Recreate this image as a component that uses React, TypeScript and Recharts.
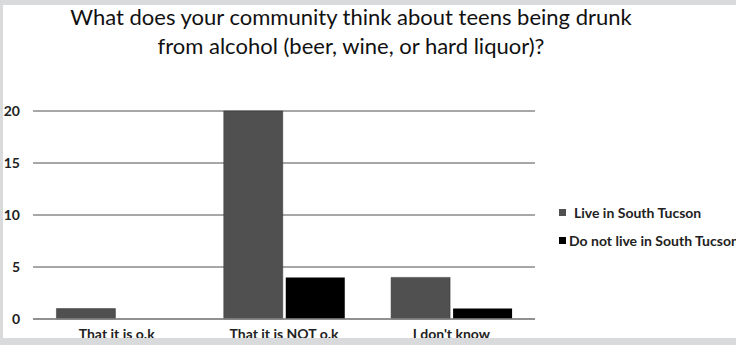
import React from "react";
import { BarChart, Bar, XAxis, YAxis, CartesianGrid } from "recharts";

const categories = ["That it is o.k", "That it is NOT o.k", "I don't know"];
const liveIn = [1, 20, 4];
const notLiveIn = [0, 4, 1];
const yTicks = [0, 5, 10, 15, 20];

const seriesNames = ["Live in South Tucson", "Do not live in South Tucson"];
const seriesColors = ["#505050", "#000000"];

const data = categories.map((c, i) => ({
  name: c,
  live: liveIn[i],
  notLive: notLiveIn[i],
}));

const font = "Lato, 'Open Sans', sans-serif";

function LegendBox() {
  return (
    <div style={{ fontFamily: font, fontSize: 14, fontWeight: 700, color: "#222" }}>
      {seriesNames.map((n, i) => (
        <div key={n} style={{ display: "flex", alignItems: "center", height: 28, whiteSpace: "nowrap" }}>
          <span
            style={{
              display: "inline-block",
              width: 7,
              height: 7,
              background: seriesColors[i],
              marginRight: i === 0 ? 8 : 3,
            }}
          />
          {n}
        </div>
      ))}
    </div>
  );
}

export default function App() {
  return (
    <div
      style={{
        position: "fixed",
        left: 0,
        top: 0,
        width: 736,
        height: 345,
        background: "#d9dadb",
        overflow: "hidden",
      }}
    >
      <div style={{ position: "absolute", left: 3, top: 5, width: 733, height: 333, background: "#fff" }} />
      <div
        style={{
          position: "absolute",
          left: 0,
          top: 2,
          width: 702,
          textAlign: "center",
          fontFamily: font,
          fontSize: 22,
          lineHeight: "29px",
          color: "#111",
        }}
      >
        What does your community think about teens being drunk
        <br />
        from alcohol (beer, wine, or hard liquor)?
      </div>
      <div style={{ position: "absolute", left: 0, top: 0 }}>
        <BarChart
          width={736}
          height={345}
          data={data}
          margin={{ top: 111, right: 201, bottom: 6, left: 0 }}
          barGap={3}
          barCategoryGap="14%"
        >
          <CartesianGrid vertical={false} stroke="#8a8a8a" strokeWidth={1.5} />
          <XAxis
            dataKey="name"
            height={20}
            axisLine={{ stroke: "#8a8a8a", strokeWidth: 1.5 }}
            tickLine={false}
            tickSize={0}
            tickMargin={10}
            tick={{ fontFamily: font, fontSize: 14, fontWeight: 700, fill: "#222" }}
          />
          <YAxis
            width={33}
            domain={[0, 20]}
            ticks={yTicks}
            axisLine={false}
            tickLine={false}
            tickSize={0}
            tickMargin={13}
            tick={{ fontFamily: font, fontSize: 14, fontWeight: 700, fill: "#222" }}
          />
          <Bar dataKey="live" name={seriesNames[0]} fill={seriesColors[0]} stroke="#333" strokeWidth={0.5} isAnimationActive={false} />
          <Bar dataKey="notLive" name={seriesNames[1]} fill={seriesColors[1]} isAnimationActive={false} />
        </BarChart>
      </div>
      <div style={{ position: "absolute", left: 559, top: 198 }}>
        <LegendBox />
      </div>
      <div style={{ position: "absolute", left: 0, top: 338, width: 736, height: 7, background: "#d9dadb" }} />
    </div>
  );
}
